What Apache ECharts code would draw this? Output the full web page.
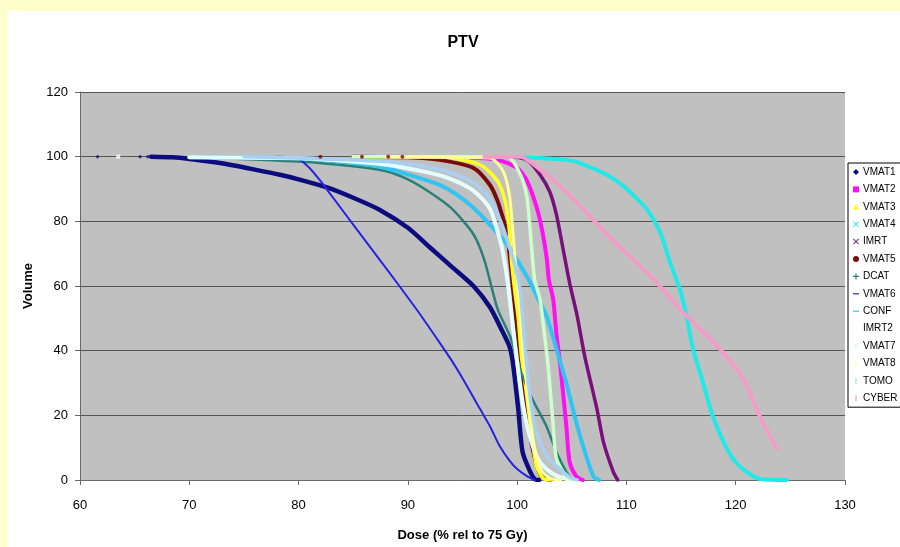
<!DOCTYPE html>
<html>
<head>
<meta charset="utf-8">
<title>PTV</title>
<script src="https://cdn.jsdelivr.net/npm/echarts@6/dist/echarts.min.js"></script>
<style>
  html, body { margin: 0; padding: 0; background: #ffffcc; overflow: hidden; }
  .panel { position: absolute; left: 7px; top: 11px; right: 0; bottom: 0; background: #fff; }
  #chart { position: absolute; left: 0; top: 0; width: 900px; height: 547px; }
</style>
</head>
<body>
<div class="panel"></div>
<div id="chart"></div>
<script>
// DVH curves, [dose %, volume %]
const vmat1 = [
  [66.5, 100], [68.5, 99.8], [70, 99.3], [72, 98.4], [73.7, 97.5], [76, 96], [78.3, 94.4],
  [80, 93], [82.6, 90.5], [85, 87.3], [87.4, 83.6], [90, 78], [92, 72], [94, 66], [96, 60],
  [97.5, 53.5], [98.5, 47], [99.3, 41.3], [99.6, 36.5], [100.1, 22], [100.5, 8.6],
  [101.2, 2.5], [101.6, 0.3], [102, 0]
]
const vmat2 = [
  [88, 100], [95, 99.8], [98.2, 99], [100, 96.5], [100.9, 92.5], [101.8, 84.2], [102.3, 77],
  [102.7, 68.8], [102.9, 62], [103.3, 55.8], [103.6, 45], [103.9, 36.8], [104.2, 27],
  [104.5, 16.7], [104.8, 5.6], [105.4, 1.2], [106, 0]
]
const vmat3 = [
  [85, 100], [92.9, 100], [96.6, 97.5], [98.2, 92.5], [98.9, 86.4], [99.2, 80], [99.4, 72],
  [99.5, 67], [99.8, 58], [100.1, 50], [100.4, 38], [100.8, 28], [101.1, 20], [101.4, 12],
  [101.8, 4], [102.4, 0.5], [103, 0]
]
const vmat4 = [
  [98, 100], [102.1, 99.6], [105.1, 98.7], [106.5, 97], [108.2, 94.4], [109.5, 91.5],
  [110.6, 88.2], [111.9, 83.6], [113.1, 76.5], [114, 67.2], [114.9, 58.9], [115.5, 50.6],
  [116.1, 40.4], [117, 30.2], [117.9, 19.7], [119.2, 9.6], [120, 5.5], [121, 2.5],
  [122.2, 0.3], [124.7, 0]
]
const imrt = [
  [95, 100], [99.1, 100], [100.9, 99], [102.1, 94.4], [103, 89], [103.6, 82], [104.2, 71.5],
  [104.8, 61], [105.5, 50.6], [106.2, 38], [107.3, 22], [107.9, 11.7], [108.8, 2.5], [109.2, 0]
]
const vmat5 = [
  [85, 100], [90, 99.8], [92.9, 99], [96, 96.5], [97.5, 91.3], [98.2, 86.4], [98.7, 81],
  [99.1, 75.9], [99.3, 70], [99.6, 60], [99.9, 50], [100.2, 40], [100.5, 30], [100.9, 20],
  [101.4, 10], [102, 2.5], [102.5, 0.5], [103, 0]
]
const dcat = [
  [72, 99.7], [80, 98.5], [85, 97], [88, 95.5], [90, 93], [92, 89], [94, 84], [96, 76],
  [97, 68], [98.2, 53], [99.4, 44], [100.4, 33], [101.4, 25], [102.7, 16.5],
  [103.6, 8.6], [104.5, 2.5], [105, 0.5], [105.5, 0]
]
const vmat6 = [
  [78, 100], [80, 99.3], [81, 96.5], [82, 92.5], [83, 88], [85, 79], [87, 70], [89, 61],
  [91, 51.8], [92.7, 43.5], [94, 37], [95, 31.5], [96.6, 22], [97.5, 16.7], [98.4, 10.5],
  [99.3, 6], [100, 3.4], [100.9, 1.2], [101.6, 0]
]
const conf = [
  [70, 99.8], [80, 99.5], [85, 98], [88, 96.5], [90, 94.5], [92.9, 91.3], [94.5, 88.2],
  [96, 84.2], [97.5, 79], [99.1, 72.8], [100, 68], [101.2, 61], [102, 55.5], [102.7, 50.6],
  [103.9, 37], [104.5, 30], [105.5, 16.7], [106.4, 6.5], [107, 1], [107.5, 0]
]
const imrt2 = [
  [70, 99.8], [80, 99.5], [82.9, 99], [88, 97.5], [92, 95], [94, 93], [96, 89.5], [97.5, 84],
  [98.2, 77], [98.6, 72], [99.1, 62], [99.5, 50.6], [100.1, 34], [100.6, 22], [101.2, 13],
  [102, 6], [103, 2.5], [104, 0.8], [105, 0]
]
const vmat7 = [
  [85, 100], [99.1, 100], [100.3, 94.4], [100.9, 87.3], [101.2, 77], [101.4, 68.8],
  [101.6, 62], [102.1, 55.8], [102.5, 45], [102.8, 36.5], [103.1, 25], [103.3, 16.7],
  [103.6, 6.5], [104.5, 1], [105, 0]
]
const vmat8 = [
  [88, 100], [97.5, 99.6], [98.7, 95.6], [99.3, 88], [99.6, 77], [99.8, 68.8], [100.3, 50],
  [100.7, 35], [101.1, 22], [101.6, 10], [102.2, 3], [103, 0.5], [104, 0]
]
const tomo = [
  [75, 100], [88, 98.5], [93, 96], [96, 92], [97.5, 87], [98.5, 80], [99.3, 72], [99.9, 65],
  [100.3, 58], [100.7, 42], [101.1, 28], [101.6, 17], [102.1, 11.7], [102.8, 7],
  [103.6, 4.3], [104.8, 0.9], [105.5, 0]
]
const cyber = [
  [97, 100], [100.3, 100], [102.1, 96], [103.9, 91], [105.7, 85], [108.5, 75], [111, 67],
  [112.8, 61], [115.2, 51.8], [117, 46], [118.6, 40.4], [120.7, 31.2], [122.2, 19.7],
  [123.8, 9.6]
]

// loose markers sitting on the 100 % line
const vmat1Dots = [61.6, 65.5, 66.2]
const imrt2Dots = [63.5]
const vmat5Dots = [82, 85.8, 88.2, 89.5]

const names = ['VMAT1', 'VMAT2', 'VMAT3', 'VMAT4', 'IMRT', 'VMAT5', 'DCAT', 'VMAT6',
  'CONF', 'IMRT2', 'VMAT7', 'VMAT8', 'TOMO', 'CYBER']
const curves = [vmat1, vmat2, vmat3, vmat4, imrt, vmat5, dcat, vmat6, conf, imrt2, vmat7, vmat8, tomo, cyber]
const colors = ['#0c0c7e', '#ff10f0', '#ffff20', '#22e8e8', '#7a0f7a', '#7a0a0a', '#2a8078',
  '#2424e0', '#30c4f4', '#e4ffff', '#ccffcc', '#ffff99', '#a8d0f4', '#f49cc8']
const widths = [4.5, 4, 3.5, 4, 3.5, 4, 2.5, 2, 4, 4, 3.5, 3, 3.5, 4]

const iconX = 'path://M0,1L1,0L5,4L9,0L10,1L6,5L10,9L9,10L5,6L1,10L0,9L4,5Z'
const iconPlus = 'path://M4,0H6V4H10V6H6V10H4V6H0V4H4Z'
const iconDash = 'path://M0,4H10V6H0Z'
const iconBar = 'path://M4,0H6V10H4Z'
const icons = ['diamond', 'rect', 'triangle', iconX, iconX, 'circle', iconPlus, iconDash,
  iconDash, iconBar, iconBar, iconBar, iconBar, iconBar]

const font = "'Liberation Sans', Arial, sans-serif"

const series = curves.map((data, i) => ({
  name: names[i],
  type: 'line',
  data,
  smooth: 0.25,
  showSymbol: false,
  z: i === 5 ? 1 : 2,
  color: colors[i],
  lineStyle: { width: widths[i], color: colors[i], join: 'round', cap: 'round' }
}))

const dots = (name, doses, color, symbol) => ({
  name,
  type: 'scatter',
  data: doses.map(d => [d, 100]),
  symbol,
  symbolSize: 4,
  color,
  z: 3
})
series.push(dots('VMAT1', vmat1Dots, colors[0], 'diamond'))
series.push(dots('IMRT2', imrt2Dots, '#ffffff', 'rect'))
series.push(dots('VMAT5', vmat5Dots, colors[5], 'circle'))

const chart = echarts.init(document.getElementById('chart'))
chart.setOption({
  animation: false,
  title: {
    text: 'PTV',
    left: 458,
    top: 30,
    textAlign: 'center',
    textStyle: { fontFamily: font, fontSize: 16, fontWeight: 'bold', color: '#000' }
  },
  legend: {
    orient: 'vertical',
    left: 848,
    top: 163,
    padding: [3, 5, 3, 5],
    itemGap: 5.4,
    itemWidth: 6,
    itemHeight: 6,
    backgroundColor: '#fff',
    borderColor: '#000',
    borderWidth: 1,
    borderRadius: 0,
    textStyle: { fontFamily: font, fontSize: 10, color: '#000', lineHeight: 12, padding: [0, 0, 0, -1] },
    data: names.map((n, i) => ({ name: n, icon: icons[i] }))
  },
  grid: {
    left: 80,
    right: 55,
    top: 92,
    bottom: 66,
    show: true,
    backgroundColor: '#c0c0c0',
    borderWidth: 0
  },
  xAxis: {
    type: 'value',
    min: 60,
    max: 130,
    interval: 10,
    name: 'Dose (% rel to 75 Gy)',
    nameLocation: 'middle',
    nameGap: 49,
    nameTextStyle: { fontFamily: font, fontSize: 13, fontWeight: 'bold', color: '#000' },
    axisLine: { show: true, lineStyle: { color: '#6a6a6a', width: 1 } },
    axisTick: { show: true, length: 5, lineStyle: { color: '#6a6a6a' } },
    axisLabel: { fontFamily: font, fontSize: 13, color: '#000', margin: 19 },
    splitLine: { show: false }
  },
  yAxis: {
    type: 'value',
    min: 0,
    max: 120,
    interval: 20,
    name: 'Volume',
    nameLocation: 'middle',
    nameGap: 43,
    nameRotate: 90,
    nameTextStyle: { fontFamily: font, fontSize: 13, fontWeight: 'bold', color: '#000' },
    axisLine: { show: true, lineStyle: { color: '#6a6a6a', width: 1 } },
    axisTick: { show: true, length: 5, lineStyle: { color: '#6a6a6a' } },
    axisLabel: { fontFamily: font, fontSize: 13, color: '#000', margin: 12 },
    splitLine: { show: true, lineStyle: { color: '#555', width: 1 } }
  },
  series
})
</script>
</body>
</html>
